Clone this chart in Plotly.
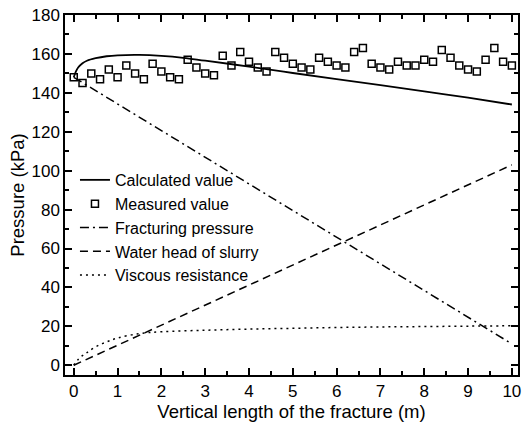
import plotly.graph_objects as go

# Measured values
meas_x = [round(0.2 * i, 1) for i in range(51)]
meas_y = [148, 145, 150, 147, 152, 148, 154, 150, 147, 155, 151, 148, 147, 157, 153, 150, 149,
          159, 154, 161, 156, 153, 151, 161, 158, 155, 153, 152, 158, 156, 154, 153, 161, 163,
          155, 153, 152, 156, 154, 154, 157, 156, 162, 158, 154, 152, 151, 157, 163, 156, 154]

# Calculated value
calc_x = [0, 0.05, 0.1, 0.2, 0.3, 0.5, 0.75, 1, 1.5, 2, 2.5, 3, 4, 5, 6, 7, 8, 9, 10]
calc_y = [148, 151, 153, 155.2, 156.5, 157.8, 158.8, 159.3, 159.5, 159, 158, 156.5, 153.5,
          150.2, 147, 144, 140.8, 137.5, 134]

# Fracturing pressure
frac_x = [0, 10]
frac_y = [148, 11]

# Water head of slurry
water_x = [0, 10]
water_y = [0, 103]

# Viscous resistance
visc_x = [0, 0.1, 0.2, 0.3, 0.5, 0.75, 1, 1.5, 2, 3, 4, 5, 6, 7, 8, 9, 10]
visc_y = [0, 3, 5, 6.5, 9.5, 12, 14, 16.3, 17.2, 18, 18.6, 19, 19.4, 19.7, 19.9, 20.1, 20.3]

FONT = "Liberation Sans, Arial, sans-serif"

fig = go.Figure()
fig.add_trace(go.Scatter(x=calc_x, y=calc_y, mode="lines", name="Calculated value",
                         line=dict(color="black", width=1.8, shape="spline")))
fig.add_trace(go.Scatter(x=meas_x, y=meas_y, mode="markers", name="Measured value",
                         marker=dict(symbol="square-open", size=7, color="black",
                                     line=dict(width=1.5, color="black"))))
fig.add_trace(go.Scatter(x=frac_x, y=frac_y, mode="lines", name="Fracturing pressure",
                         line=dict(color="black", width=1.5, dash="9px,4px,2px,4px")))
fig.add_trace(go.Scatter(x=water_x, y=water_y, mode="lines", name="Water head of slurry",
                         line=dict(color="black", width=1.5, dash="8px,5px")))
fig.add_trace(go.Scatter(x=visc_x, y=visc_y, mode="lines", name="Viscous resistance",
                         line=dict(color="black", width=1.5, dash="2px,4px", shape="spline")))

axis_common = dict(showline=True, linecolor="black", linewidth=1.5, mirror="ticks",
                   ticks="inside", ticklen=7, tickwidth=1.5, tickcolor="black",
                   showgrid=False, zeroline=False,
                   tickfont=dict(family=FONT, size=17, color="black"))

fig.update_layout(
    width=522, height=424,
    margin=dict(l=65, r=2, t=15, b=49),
    paper_bgcolor="white", plot_bgcolor="white",
    font=dict(family=FONT, color="black"),
    showlegend=True,
    legend=dict(x=0.022, y=0.589, xanchor="left", yanchor="top",
                bgcolor="rgba(0,0,0,0)", font=dict(family=FONT, size=16, color="black"),
                tracegroupgap=0, itemwidth=30),
    xaxis=dict(range=[-0.2, 10.14], tickmode="linear", tick0=0, dtick=1,
               minor=dict(ticks="inside", ticklen=4, tickwidth=1.5, tickcolor="black", dtick=0.5),
               title=dict(text="Vertical length of the fracture (m)",
                          font=dict(family=FONT, size=18.5, color="black"), standoff=0),
               **axis_common),
    yaxis=dict(range=[-5, 180], tickmode="linear", tick0=0, dtick=20,
               minor=dict(ticks="inside", ticklen=4, tickwidth=1.5, tickcolor="black", dtick=10),
               title=dict(text="Pressure (kPa)",
                          font=dict(family=FONT, size=18.5, color="black"), standoff=2),
               **axis_common),
)

fig.write_html("out.html")
